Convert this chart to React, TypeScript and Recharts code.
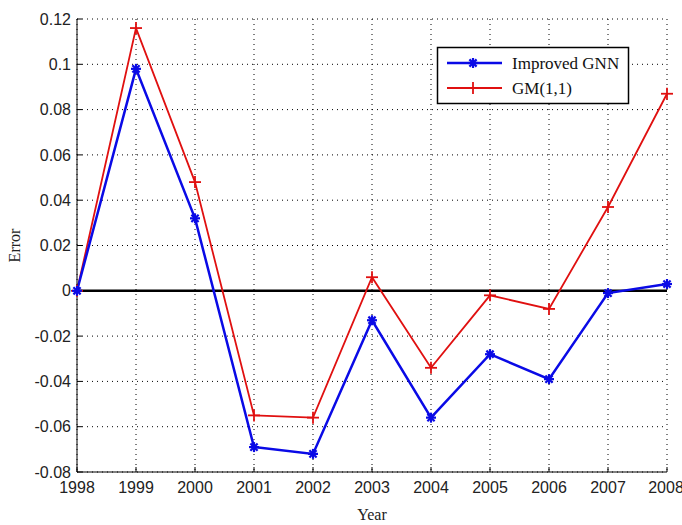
import React from "react";
import {
  CartesianGrid,
  Line,
  LineChart,
  ReferenceLine,
  XAxis,
  YAxis,
} from "recharts";

const years = [1998, 1999, 2000, 2001, 2002, 2003, 2004, 2005, 2006, 2007, 2008];
const improvedGnn = [0, 0.098, 0.032, -0.069, -0.072, -0.013, -0.056, -0.028, -0.039, -0.001, 0.003];
const gm11 = [0, 0.116, 0.048, -0.055, -0.056, 0.006, -0.034, -0.002, -0.008, 0.037, 0.087];
const yTicks = [-0.08, -0.06, -0.04, -0.02, 0, 0.02, 0.04, 0.06, 0.08, 0.1, 0.12];
const seriesNames = ["Improved GNN", "GM(1,1)"];

const data = years.map((year, i) => ({
  year,
  gnn: improvedGnn[i],
  gm: gm11[i],
}));

const BLUE = "#0a0ae6";
const RED = "#e01010";
const SERIF = "Liberation Serif, Times New Roman, serif";
const tickFont = { fill: "#222", fontSize: 16, fontFamily: "Liberation Sans, Arial, sans-serif" };

function fmt(v: number) {
  return String(Number(v.toFixed(2)));
}

function StarDot(props: any) {
  const { cx, cy } = props;
  if (cx == null || cy == null) return null;
  const r = 5;
  const d = r * 0.72;
  return (
    <g stroke={BLUE} strokeWidth={2.2}>
      <line x1={cx - r} y1={cy} x2={cx + r} y2={cy} />
      <line x1={cx} y1={cy - r} x2={cx} y2={cy + r} />
      <line x1={cx - d} y1={cy - d} x2={cx + d} y2={cy + d} />
      <line x1={cx - d} y1={cy + d} x2={cx + d} y2={cy - d} />
    </g>
  );
}

function PlusDot(props: any) {
  const { cx, cy } = props;
  if (cx == null || cy == null) return null;
  const r = 6;
  return (
    <g stroke={RED} strokeWidth={1.8}>
      <line x1={cx - r} y1={cy} x2={cx + r} y2={cy} />
      <line x1={cx} y1={cy - r} x2={cx} y2={cy + r} />
    </g>
  );
}

// legend drawn as an overlay so recharts doesn't reserve space for it
function LegendBox() {
  return (
    <svg width={194} height={59} style={{ position: "absolute", left: 436, top: 46 }}>
      <rect x={1.5} y={1.5} width={191} height={56} fill="#fff" stroke="#000" strokeWidth={1.5} />
      <line x1={11} y1={17} x2={66} y2={17} stroke={BLUE} strokeWidth={2.5} />
      <StarDot cx={37} cy={17} />
      <text x={76} y={22.5} fontSize={17} fill="#111" fontFamily={SERIF}>
        {seriesNames[0]}
      </text>
      <line x1={11} y1={42} x2={66} y2={42} stroke={RED} strokeWidth={2} />
      <PlusDot cx={37} cy={42} />
      <text x={76} y={47.5} fontSize={17} fill="#111" fontFamily={SERIF}>
        {seriesNames[1]}
      </text>
    </svg>
  );
}

export default function App() {
  return (
    <div style={{ position: "absolute", left: 0, top: 0, width: 682, height: 525, background: "#fff" }}>
      <LineChart
        width={682}
        height={525}
        data={data}
        margin={{ top: 19, right: 15, bottom: 23, left: 17 }}
      >
        <CartesianGrid stroke="#000" strokeDasharray="1 4" />
        <XAxis
          dataKey="year"
          type="number"
          domain={[1998, 2008]}
          ticks={years}
          height={30}
          stroke="#000"
          tickSize={-5}
          tickMargin={15}
          tick={tickFont}
          label={{
            value: "Year",
            position: "insideBottom",
            offset: -18,
            style: { fill: "#222", fontSize: 16, fontFamily: SERIF },
          }}
        />
        <XAxis
          xAxisId="top"
          dataKey="year"
          type="number"
          orientation="top"
          domain={[1998, 2008]}
          ticks={years}
          height={0}
          stroke="#000"
          tickSize={-5}
          tickFormatter={() => ""}
        />
        <YAxis
          type="number"
          domain={[-0.08, 0.12]}
          ticks={yTicks}
          width={60}
          stroke="#000"
          tickSize={-5}
          tickMargin={11}
          tick={tickFont}
          tickFormatter={fmt}
          label={{
            value: "Error",
            angle: -90,
            position: "insideLeft",
            offset: -3,
            style: { fill: "#222", fontSize: 16, fontFamily: SERIF, textAnchor: "middle" },
          }}
        />
        <YAxis
          yAxisId="right"
          type="number"
          orientation="right"
          domain={[-0.08, 0.12]}
          ticks={yTicks}
          width={0}
          stroke="#000"
          tickSize={-5}
          tickFormatter={() => ""}
        />
        <ReferenceLine y={0} stroke="#000" strokeWidth={2.5} />
        <Line
          dataKey="gm"
          name={seriesNames[1]}
          stroke={RED}
          strokeWidth={1.8}
          dot={(p: any) => <PlusDot key={`gm-${p.index}`} {...p} />}
          activeDot={false}
          isAnimationActive={false}
        />
        <Line
          dataKey="gnn"
          name={seriesNames[0]}
          stroke={BLUE}
          strokeWidth={2.5}
          dot={(p: any) => <StarDot key={`gnn-${p.index}`} {...p} />}
          activeDot={false}
          isAnimationActive={false}
        />
      </LineChart>
      <LegendBox />
    </div>
  );
}
